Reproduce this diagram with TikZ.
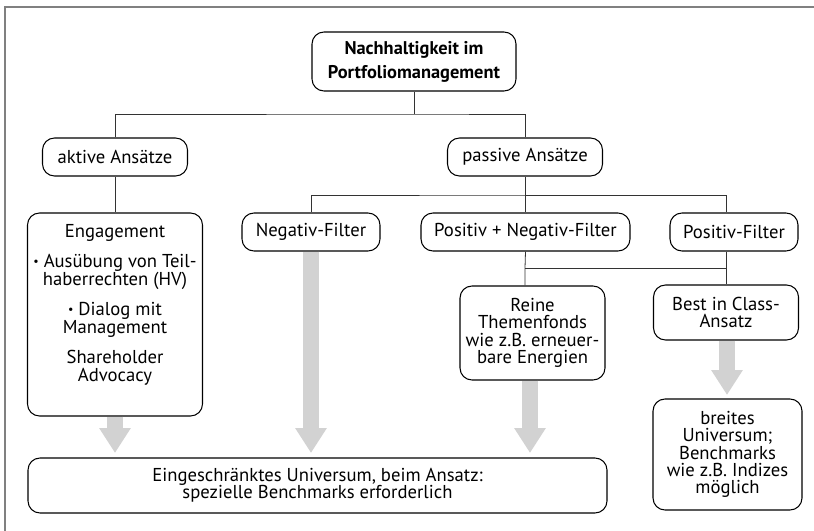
\documentclass[tikz,border=0pt]{standalone}
\usepackage{fontspec}
\setmainfont{PT Sans}
\usetikzlibrary{arrows.meta}
\begin{document}
\begin{tikzpicture}[x=0.75pt,y=-0.75pt,
  box/.style={draw=black, line width=0.8pt, rounded corners=9pt, align=center, inner sep=0pt,
    font=\fontsize{14}{13}\selectfont},
  sz/.style 2 args={minimum width=#1*0.75pt, minimum height=#2*0.75pt},
  conn/.style={draw=black!80, line width=0.6pt},
  bigarrow/.style={draw=gray!35, line width=12pt, -{Triangle[width=22.5pt,length=18.75pt]}},
  frame/.style={draw=gray, line width=1.5pt}]
\useasboundingbox (0,0) rectangle (814,531);
% frame
\draw[frame] (4,7) -- (814,7);
\draw[frame] (5,7) -- (5,531);
% nodes
\node[box, sz={204}{59}, font=\bfseries\fontsize{13.8}{18}\selectfont] (top) at (414,61.5) {\raisebox{-2pt}{Nachhaltigkeit im}\\\raisebox{-2pt}{Portfoliomanagement}};
\node[box, sz={145}{38}] (akt) at (115,157) {aktive Ansätze};
\node[box, sz={155}{38}] (pas) at (525,157) {passive Ansätze};
\node[box, sz={175}{203}] (eng) at (115,314.5) {\parbox[c][142.5pt][t]{125pt}{\centering\fontsize{14}{13.8}\selectfont
  \rule{0pt}{13.5pt}Engagement\\[8.5pt]
  \raisebox{1.2pt}{\small•} Ausübung von Teil-\\haberrechten (HV)\\[8.5pt]
  \raisebox{1.2pt}{\small•} Dialog mit\\Management\\[8.5pt]
  Shareholder\\Advocacy}};
\node[box, sz={138}{38}] (neg) at (311,232) {Negativ-Filter};
\node[box, sz={209}{38}] (posneg) at (525.5,232) {Positiv + Negativ-Filter};
\node[box, sz={128}{38}] (pos) at (734,232) {Positiv-Filter};
\node[box, sz={145}{94}] (reine) at (532.5,333) {Reine\\Themenfonds\\wie z.B. erneuer-\\bare Energien};
\node[box, sz={145}{55}] (best) at (726,312.5) {Best in Class-\\Ansatz};
\node[box, sz={149}{111}] (breit) at (727.5,454.5) {breites\\Universum;\\Benchmarks\\wie z.B. Indizes\\möglich};
\node[box, sz={579}{55}] (bottom) at (317.5,485.5) {Eingeschränktes Universum, beim Ansatz:\\spezielle Benchmarks erforderlich};
% tree connectors
\coordinate (h1) at (414,114);
\draw[conn] (top.south) -- (h1);
\draw[conn] (akt.north) |- (h1) -| (pas.north);
\draw[conn] (akt.south) -- (eng.north);
\coordinate (h2) at (525,195);
\draw[conn] (pas.south) -- (h2);
\draw[conn] (neg.north) |- (h2) -| (posneg.north);
\draw[conn] (h2) -| (pos.north -| best.north);
\coordinate (h3) at (525,268);
\draw[conn] (posneg.south) -- (h3) -- (reine.north -| h3);
\draw[conn] (h3) -- (h3 -| best.north);
\draw[conn] (pos.south -| best.north) -- (best.north);
% gray arrows
\coordinate (a1) at (115,453);
\coordinate (a2) at (311,453);
\coordinate (a3) at (530,453);
\coordinate (a4) at (727,395);
\draw[bigarrow] (eng.south) -- (a1);
\draw[bigarrow] (neg.south) -- (a2);
\draw[bigarrow] (reine.south -| a3) -- (a3);
\draw[bigarrow] (best.south -| a4) -- (a4);
\end{tikzpicture}
\end{document}
